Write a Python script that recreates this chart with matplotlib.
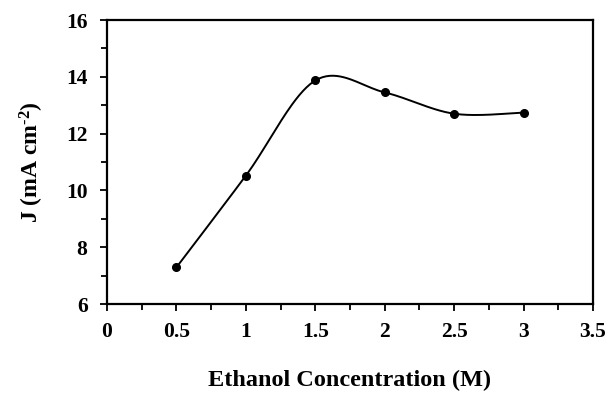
import matplotlib.pyplot as plt
import numpy as np
from matplotlib.ticker import MultipleLocator

# ethanol concentration (M) vs current density J (mA cm-2)
conc = [0.5, 1.0, 1.5, 2.0, 2.5, 3.0]
current = [7.29, 10.52, 13.87, 13.45, 12.70, 12.74]

XMIN, XMAX = 0, 3.5
YMIN, YMAX = 6, 16


def smooth_curve(x, y, sx, sy, n=40):
    # Catmull-Rom style bezier through the points (like a spreadsheet smoothed line)
    px = np.asarray(x) * sx
    py = np.asarray(y) * sy
    pts = np.column_stack([px, py])
    out = []
    for i in range(len(pts) - 1):
        p0 = pts[i - 1] if i > 0 else pts[i]
        p1 = pts[i]
        p2 = pts[i + 1]
        p3 = pts[i + 2] if i + 2 < len(pts) else pts[i + 1]
        c1 = p1 + (p2 - p0) / 6.0
        c2 = p2 - (p3 - p1) / 6.0
        t = np.linspace(0, 1, n)[:, None]
        seg = ((1 - t) ** 3 * p1 + 3 * (1 - t) ** 2 * t * c1
               + 3 * (1 - t) * t ** 2 * c2 + t ** 3 * p2)
        out.append(seg if i == 0 else seg[1:])
    out = np.vstack(out)
    return out[:, 0] / sx, out[:, 1] / sy


plt.rcParams['font.family'] = 'Liberation Serif'
plt.rcParams['font.weight'] = 'bold'
plt.rcParams['mathtext.fontset'] = 'custom'
plt.rcParams['mathtext.rm'] = 'Liberation Serif:bold'
plt.rcParams['mathtext.bf'] = 'Liberation Serif:bold'
plt.rcParams['mathtext.default'] = 'bf'

fig = plt.figure(figsize=(6.09, 3.94), dpi=100)
ax = fig.add_axes([107 / 609, 1 - 304 / 394, 486 / 609, 284 / 394])

# scale to pixel-ish units so the smoothing follows the plotted aspect
sx = 486 / (XMAX - XMIN)
sy = 284 / (YMAX - YMIN)
cx, cy = smooth_curve(conc, current, sx, sy)
ax.plot(cx, cy, color='black', lw=1.4, zorder=2)
ax.plot(conc, current, 'o', color='black', ms=5.5, zorder=3)

ax.set_xlim(XMIN, XMAX)
ax.set_ylim(YMIN, YMAX)
ax.xaxis.set_major_locator(MultipleLocator(0.5))
ax.xaxis.set_minor_locator(MultipleLocator(0.25))
ax.yaxis.set_major_locator(MultipleLocator(2))
ax.yaxis.set_minor_locator(MultipleLocator(1))
ax.xaxis.set_major_formatter(plt.FuncFormatter(lambda v, p: '%g' % v))

for s in ax.spines.values():
    s.set_linewidth(1.6)
ax.tick_params(which='major', direction='out', length=5, width=1.3,
               labelsize=15.5, pad=8)
ax.tick_params(which='minor', direction='out', length=4, width=1.3)
ax.tick_params(axis='y', pad=9)

ax.set_xlabel('Ethanol Concentration (M)', fontsize=17.5, fontweight='bold',
              labelpad=20)
ax.set_ylabel(r'J (mA cm$^{\text{-}2}$)', fontsize=17, fontweight='bold',
              labelpad=14)

fig.savefig('out.png', dpi=100)
